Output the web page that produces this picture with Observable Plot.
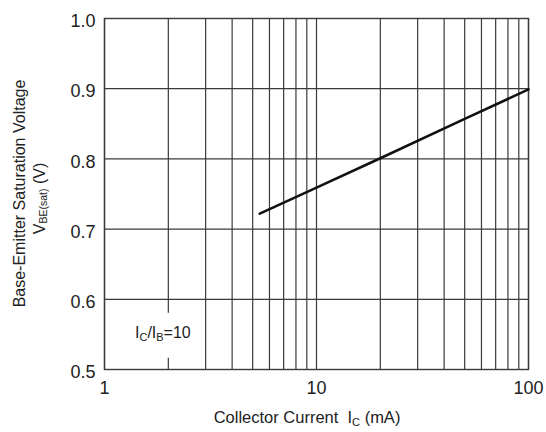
<!DOCTYPE html>
<html>
<head>
<meta charset="utf-8">
<script src="https://cdn.jsdelivr.net/npm/d3@7"></script>
<script src="https://cdn.jsdelivr.net/npm/@observablehq/plot@0.6"></script>
<style>
  html, body { margin: 0; padding: 0; background: #fff; }
  #chart { width: 546px; height: 432px; }
  svg { font-family: "Liberation Sans", Arial, Helvetica, sans-serif; }
</style>
</head>
<body>
<div id="chart"></div>
<script>
// Data
const collectorCurrent = [5.4, 10, 20, 50, 100];           // mA
const vbeSat = [0.722, 0.759, 0.801, 0.857, 0.899];         // V

const xTicks = [1, 10, 100];
const xGrid = [1, 2, 3, 4, 5, 6, 7, 8, 9, 10, 20, 30, 40, 50, 60, 70, 80, 90, 100];
const yTicks = [0.5, 0.6, 0.7, 0.8, 0.9, 1.0];
const annotationPoint = [{x: 1.4, y: 0.553}];

const series = collectorCurrent.map((c, i) => ({ic: c, v: vbeSat[i]}));

const gridColor = "#3a3a3a";

const plot = Plot.plot({
  width: 546,
  height: 432,
  marginLeft: 104,
  marginRight: 18,
  marginTop: 18,
  marginBottom: 63,
  style: {fontFamily: '"Liberation Sans", Arial, sans-serif', background: "#fff", color: "#222"},
  x: {type: "log", domain: [1, 100]},
  y: {domain: [0.5, 1.0]},
  marks: [
    Plot.ruleX(xGrid, {stroke: gridColor, strokeWidth: 1.2}),
    Plot.ruleY(yTicks, {stroke: gridColor, strokeWidth: 1.2}),
    Plot.frame({stroke: gridColor, strokeWidth: 1.4}),
    Plot.line(series, {x: "ic", y: "v", stroke: "#111", strokeWidth: 2.6}),
    Plot.axisX({ticks: xTicks, tickSize: 0, tickPadding: 12, tickFormat: d => String(d), fontSize: 18, label: null}),
    Plot.axisY({ticks: yTicks, tickSize: 0, tickPadding: 9, tickFormat: d3.format(".1f"), fontSize: 18, label: null, dy: 3})
  ]
});

document.getElementById("chart").appendChild(plot);

const svg = d3.select(plot);
const xs = plot.scale("x");
const ys = plot.scale("y");

// white gap in the "2" grid line behind the annotation
const gx = xs.apply(xGrid[1]);
const ax = xs.apply(annotationPoint[0].x);
const ay = ys.apply(annotationPoint[0].y);
svg.append("rect")
  .attr("x", gx - 3).attr("y", ay - 19).attr("width", 6).attr("height", 45)
  .attr("fill", "#fff");
const ann = svg.append("text")
  .attr("x", ax).attr("y", ay + 6)
  .attr("text-anchor", "start")
  .attr("font-size", 16).attr("fill", "#222");
ann.append("tspan").text("I");
ann.append("tspan").attr("font-size", 11).attr("dy", 3).text("C");
ann.append("tspan").attr("dy", -3).text("/I");
ann.append("tspan").attr("font-size", 11).attr("dy", 3).text("B");
ann.append("tspan").attr("dy", -3).text("=10");

// X axis title
const xMid = (xs.apply(1) + xs.apply(100)) / 2;
const xt = svg.append("text")
  .attr("x", xMid - 9).attr("y", 423)
  .attr("text-anchor", "middle")
  .attr("font-size", 16.5).attr("fill", "#222");
xt.append("tspan").text("Collector Current  I");
xt.append("tspan").attr("font-size", 11).attr("dy", 3).text("C");
xt.append("tspan").attr("dy", -3).text(" (mA)");

// Y axis title (two lines)
const yMid = (ys.apply(0.5) + ys.apply(1.0)) / 2;
svg.append("text")
  .attr("transform", `translate(25,${yMid}) rotate(-90)`)
  .attr("text-anchor", "middle")
  .attr("font-size", 16).attr("fill", "#222")
  .text("Base-Emitter Saturation Voltage");
const yt2 = svg.append("text")
  .attr("transform", `translate(45,${yMid + 5}) rotate(-90)`)
  .attr("text-anchor", "middle")
  .attr("font-size", 16).attr("fill", "#222");
yt2.append("tspan").text("V");
yt2.append("tspan").attr("font-size", 10.5).attr("dy", 2).text("BE(sat)");
yt2.append("tspan").attr("dy", -2).text(" (V)");
</script>
</body>
</html>
